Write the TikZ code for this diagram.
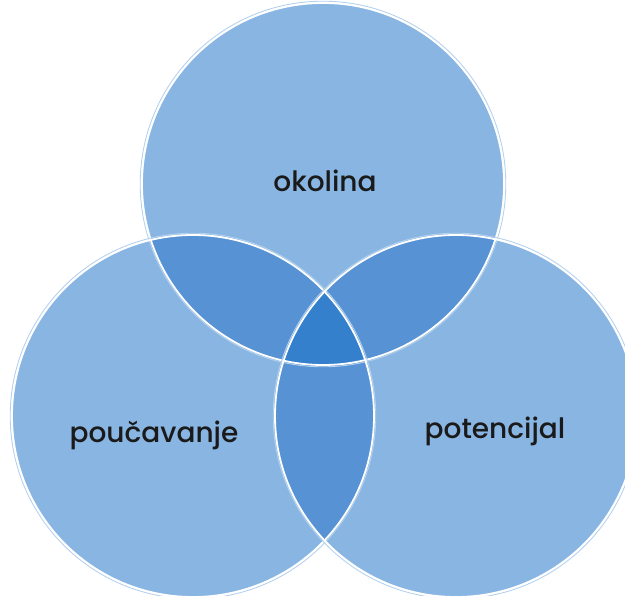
\documentclass[tikz,border=0pt]{standalone}
\usepackage{fontspec}
\setmainfont{Poppins}[UprightFont=* Medium]
\definecolor{cbase}{HTML}{88B5E2}
\definecolor{cpair}{HTML}{5793D4}
\definecolor{ctriple}{HTML}{3580CC}
\definecolor{cedge}{HTML}{B4D1EE}
\definecolor{ctext}{HTML}{1A1A1A}
\tikzset{
  venn/.style={fill=cbase},
  ringout/.style={draw=cedge, line width=0.9pt},
  ringin/.style={draw=white, line width=1.8pt},
  lbl/.style={font=\fontsize{28}{33}\selectfont, text=ctext, inner sep=0pt}
}
\begin{document}
\begin{tikzpicture}[x=1pt,y=-1pt]
\useasboundingbox (0,0) rectangle (625,596);
\clip (0,0) rectangle (625,596);
\def\R{181}
\coordinate (ct) at (323,184);
\coordinate (cl) at (193,416);
\coordinate (cr) at (456,416);
% base fills
\fill[venn] (ct) circle (\R);
\fill[venn] (cl) circle (\R);
\fill[venn] (cr) circle (\R);
% pair overlaps
\begin{scope}
  \clip (ct) circle (\R);
  \fill[cpair] (cl) circle (\R);
  \fill[cpair] (cr) circle (\R);
\end{scope}
\begin{scope}
  \clip (cl) circle (\R);
  \fill[cpair] (cr) circle (\R);
\end{scope}
% triple overlap
\begin{scope}
  \clip (ct) circle (\R);
  \clip (cl) circle (\R);
  \fill[ctriple] (cr) circle (\R);
\end{scope}
% outlines
\foreach \c in {ct,cl,cr}{
  \draw[ringout] (\c) circle (\R+1.8);
  \draw[ringin] (\c) circle (\R);
}
\node[lbl] (okolina) at (325,181) {okolina};
\node[lbl] (poucavanje) at (154,435) {poučavanje};
\node[lbl] (potencijal) at (495,431) {potencijal};
\end{tikzpicture}
\end{document}
